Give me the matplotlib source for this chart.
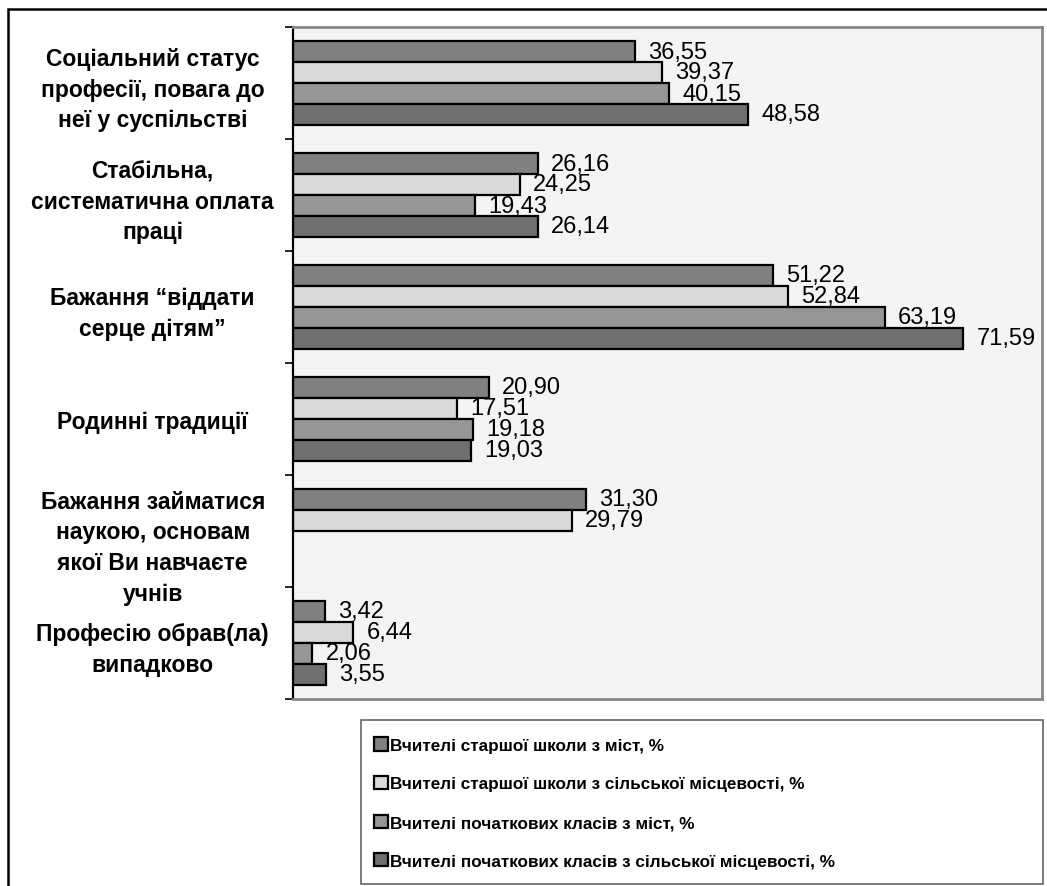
import matplotlib
matplotlib.use("Agg")
import matplotlib.pyplot as plt
from matplotlib.patches import Rectangle, Patch
from matplotlib.transforms import ScaledTranslation
import numpy as np

plt.rcParams['font.family'] = ['Liberation Sans', 'DejaVu Sans']

categories = [
    "Соціальний статус\nпрофесії, повага до\nнеї у суспільстві",
    "Стабільна,\nсистематична оплата\nпраці",
    "Бажання “віддати\nсерце дітям”",
    "Родинні традиції",
    "Бажання займатися\nнаукою, основам\nякої Ви навчаєте\nучнів",
    "Професію обрав(ла)\nвипадково",
]
series_names = [
    "Вчителі старшої школи з міст, %",
    "Вчителі старшої школи з сільської місцевості, %",
    "Вчителі початкових класів з міст, %",
    "Вчителі початкових класів з сільської місцевості, %",
]
s1 = [36.55, 26.16, 51.22, 20.90, 31.30, 3.42]
s2 = [39.37, 24.25, 52.84, 17.51, 29.79, 6.44]
s3 = [40.15, 19.43, 63.19, 19.18, np.nan, 2.06]
s4 = [48.58, 26.14, 71.59, 19.03, np.nan, 3.55]
series = [s1, s2, s3, s4]
colors = ["#808080", "#dadada", "#969696", "#6f6f6f"]

W, H = 1047, 887
fig = plt.figure(figsize=(W / 100, H / 100), dpi=100)
fig.patch.set_facecolor("white")

# outer frame
fig.patches.append(Rectangle((8 / W, -0.1), 1.2, (H - 10) / H + 0.1, transform=fig.transFigure,
                             fill=False, edgecolor="black", linewidth=1.8))

ax = fig.add_axes([293 / W, (H - 700) / H, (1042 - 293) / W, (700 - 28) / H])
ax.set_facecolor("#f4f4f4")

n = len(series)
bh = 0.75 / n
y = np.arange(len(categories))
for j, (vals, c) in enumerate(zip(series, colors)):
    off = -0.375 + bh * (j + 0.5)
    vals = np.array(vals, dtype=float)
    mask = ~np.isnan(vals)
    ax.barh(y[mask] + off, vals[mask], height=bh, color=c, edgecolor="black", linewidth=1.6)
    for v, yy in zip(vals[mask], y[mask] + off):
        ax.annotate(f"{v:.2f}".replace(".", ","), (v, yy), xytext=(9.5, 0), textcoords="offset points",
                    ha="left", va="center", fontsize=17, color="black")

ax.set_xlim(0, 80)
ax.set_ylim(len(categories) - 0.5, -0.5)
ax.set_xticks([])
ax.set_yticks(y)
ax.set_yticklabels(categories, fontsize=16.5, fontweight="bold", ha="center", linespacing=1.42)
ax.tick_params(axis="y", which="major", length=0, pad=101)
ax.set_yticks(np.arange(-0.5, len(categories) + 0.5, 1), minor=True)
ax.tick_params(axis="y", which="minor", length=6, width=1.2, color="black", direction="out")

# the 4-line label sits a little lower in the original
lab = ax.get_yticklabels()[4]
lab.set_transform(lab.get_transform() + ScaledTranslation(0, -10 / 100, fig.dpi_scale_trans))

for s in ["top", "right", "bottom"]:
    ax.spines[s].set_color("#888888")
    ax.spines[s].set_linewidth(2)
ax.spines["left"].set_color("black")
ax.spines["left"].set_linewidth(1.6)

# legend frame
lx0, ly0, lx1, ly1 = 361, 721, 1043, 885
fig.patches.append(Rectangle((lx0 / W, 1 - ly1 / H), (lx1 - lx0) / W, (ly1 - ly0) / H,
                             transform=fig.transFigure, fill=False, edgecolor="#666666", linewidth=1.2))
handles = [Patch(facecolor=c, edgecolor="black", linewidth=1.6) for c in colors]
leg = fig.legend(handles, series_names, loc="center left",
                 bbox_to_anchor=(374 / W, 1 - (ly0 + ly1 + 2) / 2 / H),
                 frameon=False,
                 prop={"size": 12.3, "weight": "bold"},
                 handlelength=0.8, handleheight=0.8, handletextpad=0.15, labelspacing=1.35,
                 borderaxespad=0, borderpad=0)

fig.savefig("out.png", dpi=100, facecolor="white")
